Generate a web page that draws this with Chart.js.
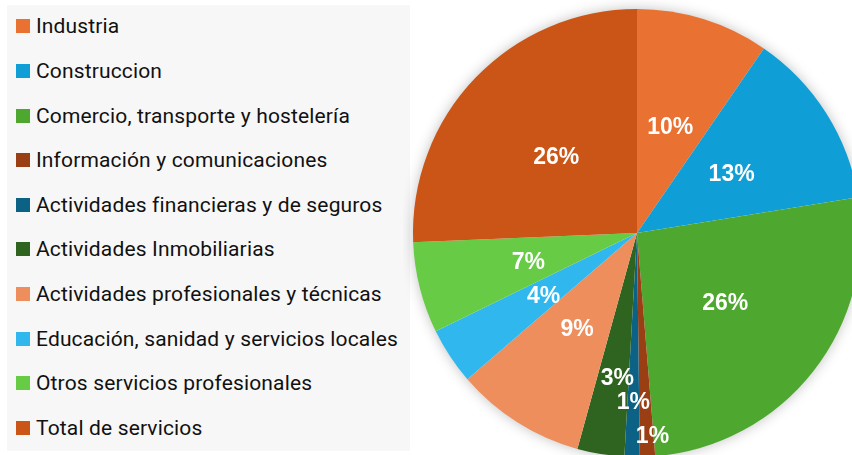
<!DOCTYPE html>
<html>
<head>
<meta charset="utf-8">
<script src="https://cdn.jsdelivr.net/npm/chart.js@4"></script>
<style>
  html, body { margin: 0; padding: 0; background: #fff; overflow: hidden; width: 852px; height: 455px; }
  #legend { position: absolute; left: 7px; top: 5px; width: 403px; height: 446px; background: #f7f7f7; }
  .item { position: absolute; left: 9px; height: 24px; display: flex; align-items: center; font-family: Roboto, "Noto Sans", sans-serif; font-size: 21px; letter-spacing: 0.15px; color: #111; white-space: nowrap; }
  .box { width: 14px; height: 14px; margin-right: 6px; }
  #wrap { position: absolute; left: 403px; top: 0; width: 468px; height: 466px; }
</style>
</head>
<body>
<div id="legend"></div>
<div id="wrap"><canvas id="pie"></canvas></div>
<script>
const labels = [
  "Industria",
  "Construccion",
  "Comercio, transporte y hostelería",
  "Información y comunicaciones",
  "Actividades financieras y de seguros",
  "Actividades Inmobiliarias",
  "Actividades profesionales y técnicas",
  "Educación, sanidad y servicios locales",
  "Otros servicios profesionales",
  "Total de servicios"
];
const shares = [9.6, 12.9, 26.3, 1.1, 1.1, 3.4, 9.4, 4.1, 6.6, 25.7];
const colors = ["#E97132", "#0F9ED5", "#4EA72E", "#9A3F14", "#0B6285", "#2F6420", "#EE8E5D", "#30B8EE", "#68CB46", "#CB5516"];

// legend on the left, built from the same arrays
const legendDiv = document.getElementById("legend");
labels.forEach((name, i) => {
  const item = document.createElement("div");
  item.className = "item";
  item.style.top = (26.3 + i * 44.6 - 5 - 12) + "px";
  item.innerHTML = `<span class="box" style="background:${colors[i]}"></span>${name}`;
  legendDiv.appendChild(item);
});

// soft shadow behind the whole pie
const pieShadow = {
  id: "pieShadow",
  beforeDatasetsDraw(chart) {
    const arc = chart.getDatasetMeta(0).data[0];
    if (!arc) return;
    const ctx = chart.ctx;
    ctx.save();
    ctx.shadowColor = "rgba(0,0,0,0.28)";
    ctx.shadowBlur = 14;
    ctx.fillStyle = "#fff";
    ctx.beginPath();
    ctx.arc(arc.x, arc.y, arc.outerRadius - 1, 0, Math.PI * 2);
    ctx.fill();
    ctx.restore();
  }
};

// percentage labels inside the slices
const sliceLabels = {
  id: "sliceLabels",
  afterDatasetsDraw(chart, args, opts) {
    const ctx = chart.ctx;
    const data = chart.data.datasets[0].data;
    const total = data.reduce((a, b) => a + b, 0);
    ctx.save();
    ctx.fillStyle = "#fff";
    ctx.font = "bold 23px 'Liberation Sans', Arial, sans-serif";
    ctx.textAlign = "center";
    ctx.textBaseline = "middle";
    chart.getDatasetMeta(0).data.forEach((arc, i) => {
      const mid = (arc.startAngle + arc.endAngle) / 2;
      const r = arc.outerRadius * opts.radius[i];
      const x = arc.x + Math.cos(mid) * r + opts.dx[i];
      const y = arc.y + Math.sin(mid) * r + 2;
      ctx.fillText(Math.round(data[i] / total * 100) + "%", x, y);
    });
    ctx.restore();
  }
};

new Chart(document.getElementById("pie"), {
  type: "pie",
  data: {
    labels,
    datasets: [{
      data: shares,
      backgroundColor: colors,
      borderWidth: 0
    }]
  },
  options: {
    responsive: true,
    maintainAspectRatio: false,
    animation: false,
    layout: { padding: { left: 10, right: 10, top: 9, bottom: 9 } },
    plugins: {
      legend: { display: false },
      tooltip: { enabled: false },
      sliceLabels: {
        radius: [0.5, 0.5, 0.5, 0.9, 0.75, 0.65, 0.5, 0.5, 0.5, 0.5],
        dx: [0, 0, 0, 6, 0, 4, 0, 0, 0, 0]
      }
    }
  },
  plugins: [pieShadow, sliceLabels]
});
</script>
</body>
</html>
